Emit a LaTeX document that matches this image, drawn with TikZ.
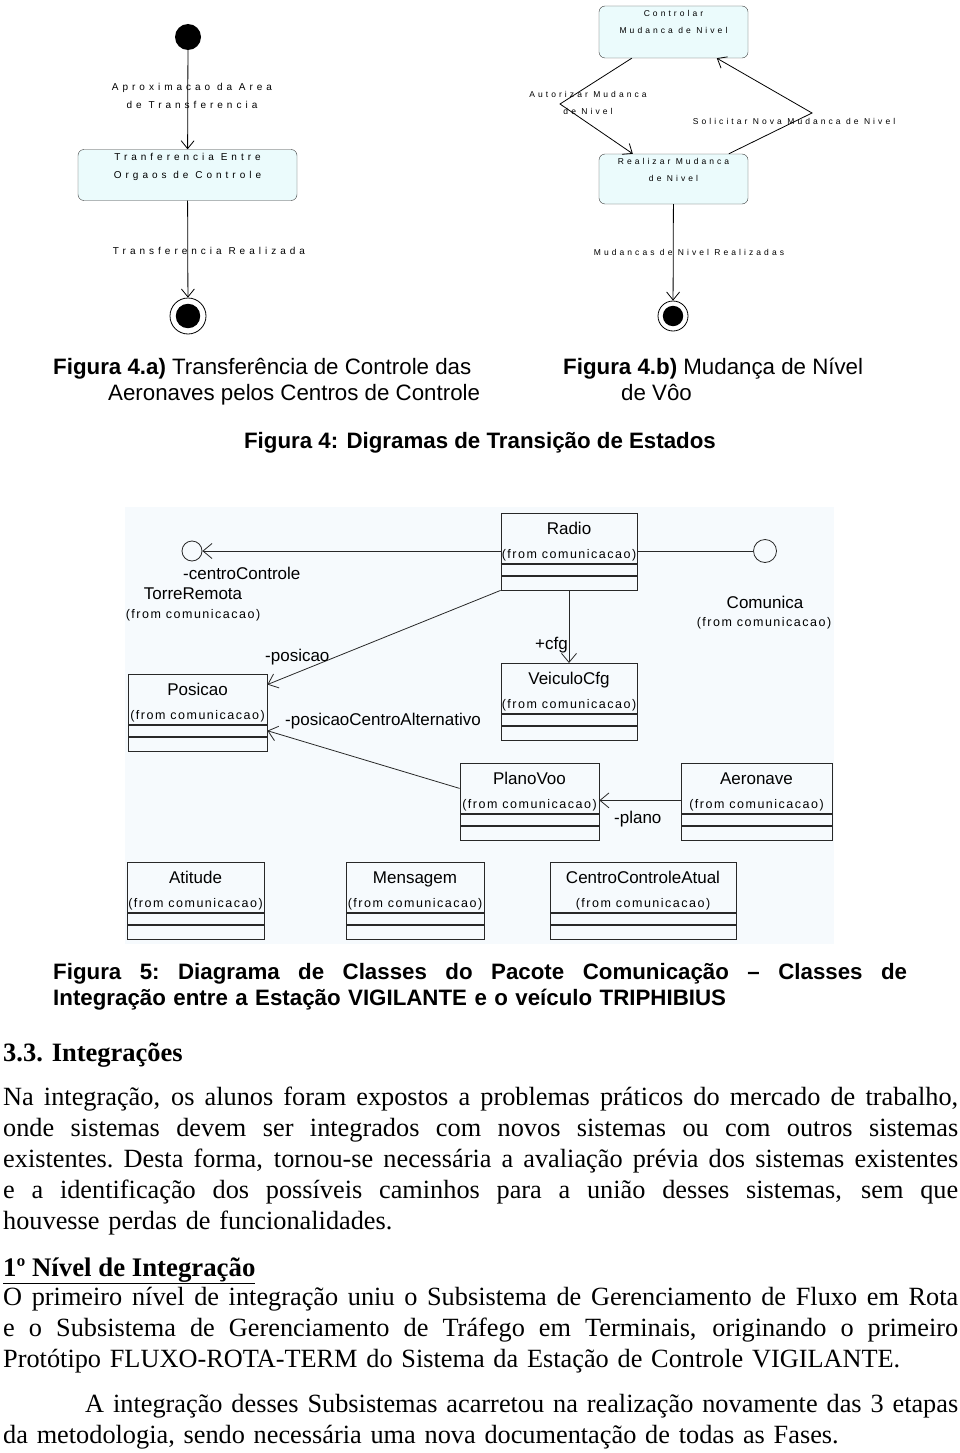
\documentclass[tikz,border=0pt]{standalone}
\usepackage{fontspec}
\setmainfont{Liberation Serif}
\newfontfamily\arialfont{Liberation Sans}
\newfontfamily\stfont[LetterSpace=40]{Liberation Sans}
\newfontfamily\stfontb[LetterSpace=36]{Liberation Sans}
\newfontfamily\fromfont[LetterSpace=12]{Liberation Sans}
\usetikzlibrary{arrows.meta,positioning,calc}
\usepackage{xcolor}
\definecolor{statefill}{RGB}{235,251,252}
\definecolor{statedraw}{RGB}{60,60,60}
\definecolor{umlback}{RGB}{246,250,253}
\definecolor{umlline}{RGB}{40,40,40}

\newcommand{\fromcom}{{\fromfont\fontsize{12.5}{24}\selectfont (from comunicacao)}}
\newcommand{\classtext}[1]{\rule{0pt}{18pt}#1\\\fromcom}
\newcommand{\spreadline}[2]{\leavevmode\hbox to #1{\spaceskip=0.25em plus 1em minus 0.08em\xspaceskip=\spaceskip\relax #2}}
\newcommand{\fullline}[1]{\spreadline{955pt}{#1}}

\begin{document}
\begin{tikzpicture}[
    x=1pt, y=-1pt,
    initstate/.style={circle, fill=black, minimum size=26pt, inner sep=0pt},
    finalstate/.style={circle, draw=black, line width=0.8pt, minimum size=#1, inner sep=0pt,
        path picture={\fill[black] (path picture bounding box.center) circle ({0.34*#1});}},
    statebox/.style={draw=statedraw, fill=statefill, rounded corners=6pt, minimum width=149pt, minimum height=52pt, inner sep=0pt},
    statetext/.style={font=\stfont\fontsize{10}{18}\selectfont, align=center, inner sep=0pt},
    statetextb/.style={font=\stfontb\fontsize{8.5}{17}\selectfont, align=center, inner sep=0pt},
    trans/.style={draw=black, line width=0.8pt, -{Straight Barb[length=8pt,width=13pt]}},
    classname/.style={draw=umlline, line width=0.8pt, anchor=north, minimum width=#1, minimum height=50pt, inner sep=0pt, align=center, font=\arialfont\fontsize{17}{24}\selectfont},
    attrbox/.style={draw=umlline, line width=0.8pt, minimum width=#1, minimum height=11pt, inner sep=0pt},
    opsbox/.style={draw=umlline, line width=0.8pt, minimum width=#1, minimum height=14pt, inner sep=0pt},
    iface/.style={circle, draw=umlline, line width=0.8pt, minimum size=#1, inner sep=0pt},
    assoc/.style={draw=umlline, line width=0.8pt, -{Straight Barb[length=9pt,width=15pt]}},
    umllabel/.style={font=\arialfont\fontsize{17}{20}\selectfont, inner sep=0pt},
    fromtext/.style={font=\fromfont\fontsize{12.5}{15}\selectfont, inner sep=0pt},
    caption/.style={font=\arialfont\fontsize{22.3}{26}\selectfont, inner sep=0pt, anchor=base west},
    bodytext/.style={font=\fontsize{26.3}{31}\selectfont, inner sep=0pt, anchor=base west, text width=955pt, align=left}
]
\useasboundingbox (0,0) rectangle (960,1453);

% Figura 4.a: transferencia de controle
\node[initstate] (init4a) at (188,37) {};
\node[statebox, minimum width=219pt, minimum height=51pt] (tranfer) at (187.5,175) {};
\node[statetext, below=4pt of tranfer.north] (tranfertxt) {Tranferencia Entre\\Orgaos de Controle};
\node[finalstate=36pt] (final4a) at (188,316) {};
\draw[trans] (init4a) -- (tranfer);
\draw[trans] (tranfer) -- (final4a);
\node[statetext] (aproxlbl) at (192,96) {Aproximacao da Area\\de Transferencia};
\node[statetext] (realizadalbl) at (209,251) {Transferencia Realizada};

% Figura 4.b: mudanca de nivel
\node[statebox] (controlar) at (673.5,32) {};
\node[statetextb, below=4pt of controlar.north] (controlartxt) {Controlar\\Mudanca de Nivel};
\node[statebox, minimum height=50pt] (realizar) at (673.5,179) {};
\node[statetextb, below=4pt of realizar.north] (realizartxt) {Realizar Mudanca\\de Nivel};
\node[finalstate=30pt] (final4b) at (673,316) {};
\coordinate (autbend) at (560,104);
\coordinate (solbend) at (812,113);
\draw[trans] ([xshift=33pt]controlar.south west) -- (autbend) -- ([xshift=34pt]realizar.north west);
\draw[trans] ([xshift=130pt]realizar.north west) -- (solbend) -- ([xshift=118pt]controlar.south west);
\draw[trans] (realizar) -- (final4b);
\node[statetextb] (autorizarlbl) at (588,103) {Autorizar Mudanca\\de Nivel};
\node[statetextb] (solicitarlbl) at (794,121) {Solicitar Nova Mudanca de Nivel};
\node[statetextb] (mudancaslbl) at (689,252) {Mudancas de Nivel Realizadas};

% Legendas da figura 4
\node[caption] (cap4a) at (53,374) {\textbf{Figura 4.a)} Transferência de Controle das};
\node[caption] (cap4a2) at (108,400) {Aeronaves pelos Centros de Controle};
\node[caption] (cap4b) at (563,374) {\textbf{Figura 4.b)} Mudança de Nível};
\node[caption] (cap4b2) at (621,400) {de Vôo};
\node[caption, anchor=base] (cap4) at (480,448) {\textbf{Figura 4: Digramas de Transição de Estados}};

% Figura 5: diagrama de classes
\fill[umlback] (125,507) rectangle (834,944);

\node[classname=136pt] (radio) at (569,513) {\classtext{Radio}};
\node[attrbox=136pt, below=0pt of radio] (radioattr) {};
\node[opsbox=136pt, below=0pt of radioattr] (radioops) {};
\draw[umlline, line width=1.8pt] (radio.south west) -- (radio.south east);

\node[classname=136pt] (veiculo) at (569,663) {\classtext{VeiculoCfg}};
\node[attrbox=136pt, below=0pt of veiculo] (veiculoattr) {};
\node[opsbox=136pt, below=0pt of veiculoattr] (veiculoops) {};

\node[classname=139pt] (posicao) at (197.5,674) {\classtext{Posicao}};
\node[attrbox=139pt, below=0pt of posicao] (posicaoattr) {};
\node[opsbox=139pt, below=0pt of posicaoattr] (posicaoops) {};

\node[classname=139pt] (planovoo) at (529.5,763) {\classtext{PlanoVoo}};
\node[attrbox=139pt, below=0pt of planovoo] (planovooattr) {};
\node[opsbox=139pt, below=0pt of planovooattr] (planovooops) {};

\node[classname=151pt] (aeronave) at (756.5,763) {\classtext{Aeronave}};
\node[attrbox=151pt, below=0pt of aeronave] (aeronaveattr) {};
\node[opsbox=151pt, below=0pt of aeronaveattr] (aeronaveops) {};

\node[classname=137pt] (atitude) at (195.5,862) {\classtext{Atitude}};
\node[attrbox=137pt, below=0pt of atitude] (atitudeattr) {};
\node[opsbox=137pt, below=0pt of atitudeattr] (atitudeops) {};

\node[classname=138pt] (mensagem) at (415,862) {\classtext{Mensagem}};
\node[attrbox=138pt, below=0pt of mensagem] (mensagemattr) {};
\node[opsbox=138pt, below=0pt of mensagemattr] (mensagemops) {};

\node[classname=186pt] (centro) at (643,862) {\classtext{CentroControleAtual}};
\node[attrbox=186pt, below=0pt of centro] (centroattr) {};
\node[opsbox=186pt, below=0pt of centroattr] (centroops) {};

% Interfaces
\node[iface=20pt] (torre) at (192,551) {};
\node[umllabel, anchor=west] (centrolbl) at (183,573) {-centroControle};
\node[umllabel] (torrename) at (193,594) {TorreRemota};
\node[fromtext] (torrefrom) at (193,615) {(from comunicacao)};
\node[iface=23pt] (comunica) at (765,551) {};
\node[umllabel] (comname) at (765,602) {Comunica};
\node[fromtext] (comfrom) at (764,623) {(from comunicacao)};

% Associacoes
\draw[assoc] (radio.west |- torre) -- (torre);
\draw[umlline, line width=0.8pt] (radio.east |- comunica) -- (comunica);
\draw[assoc] (radioops.south) -- (veiculo.north);
\draw[assoc] (radioops.south west) -- (posicao.12);
\draw[assoc] (planovoo.west) -- (posicaoattr.east);
\draw[assoc] ([yshift=-12pt]aeronave.west) -- ([yshift=-12pt]planovoo.east);
\node[umllabel, anchor=west] (cfglbl) at (535,645) {+cfg};
\node[umllabel, anchor=west] (poslbl) at (265,657) {-posicao};
\node[umllabel, anchor=west] (altlbl) at (285,721) {-posicaoCentroAlternativo};
\node[umllabel, anchor=west] (planolbl) at (614,819) {-plano};

% Legenda da figura 5
\node[caption, font=\arialfont\bfseries\fontsize{22.3}{26}\selectfont, text width=854pt, align=left] (cap5) at (53,979)
  {\spreadline{854pt}{Figura 5: Diagrama de Classes do Pacote Comunicação – Classes de}\\Integração entre a Estação VIGILANTE e o veículo TRIPHIBIUS};

% Texto
\node[anchor=base west, inner sep=0pt, font=\bfseries\fontsize{26.5}{31}\selectfont] (sec33) at (3,1061) {3.3. Integrações};
\node[bodytext] (para1) at (3,1105) {%
  \fullline{Na integração, os alunos foram expostos a problemas práticos do mercado de trabalho,}\\
  \fullline{onde sistemas devem ser integrados com novos sistemas ou com outros sistemas}\\
  \fullline{existentes. Desta forma, tornou-se necessária a avaliação prévia dos sistemas existentes}\\
  \fullline{e a identificação dos possíveis caminhos para a união desses sistemas, sem que}\\
  houvesse perdas de funcionalidades.};
\node[anchor=base west, inner sep=0pt, font=\bfseries\fontsize{26.8}{31}\selectfont] (nivel1) at (3,1276) {\underline{1º Nível de Integração}};
\node[bodytext] (para2) at (3,1305) {%
  \fullline{O primeiro nível de integração uniu o Subsistema de Gerenciamento de Fluxo em Rota}\\
  \fullline{e o Subsistema de Gerenciamento de Tráfego em Terminais, originando o primeiro}\\
  Protótipo FLUXO-ROTA-TERM do Sistema da Estação de Controle VIGILANTE.};
\node[bodytext] (para3) at (3,1412) {%
  \hspace*{82pt}\spreadline{873pt}{A integração desses Subsistemas acarretou na realização novamente das 3 etapas}\\
  da metodologia, sendo necessária uma nova documentação de todas as Fases.};
\end{tikzpicture}
\end{document}
